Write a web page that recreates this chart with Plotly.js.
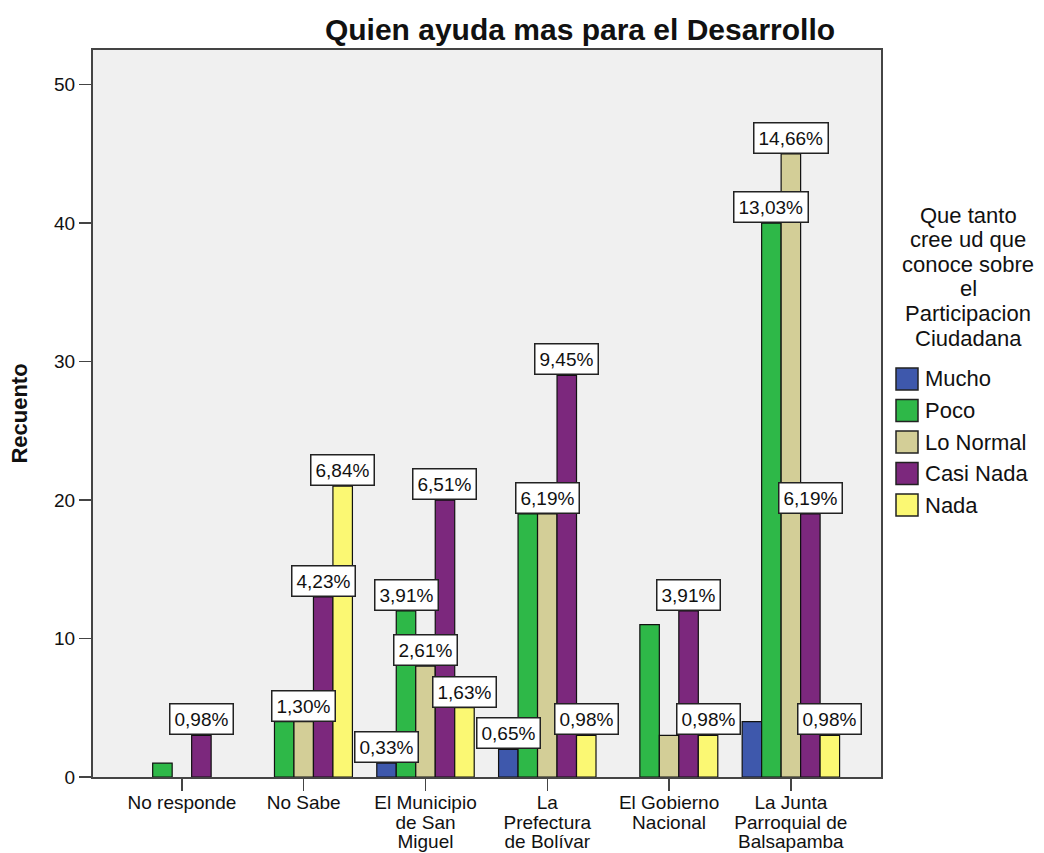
<!DOCTYPE html>
<html>
<head>
<meta charset="utf-8">
<script src="https://cdn.plot.ly/plotly-3.0.1.min.js"></script>
<style>
  html, body { margin: 0; padding: 0; background: #ffffff; }
  #chart { width: 1044px; height: 853px; }
</style>
</head>
<body>
<div id="chart"></div>
<script>
// ---- data ----
const categories = ['No responde', 'No Sabe', 'El Municipio de San Miguel', 'La Prefectura de Bolívar', 'El Gobierno Nacional', 'La Junta Parroquial de Balsapamba'];
const tickLines = [['No responde'], ['No Sabe'], ['El Municipio', 'de San', 'Miguel'], ['La', 'Prefectura', 'de Bolívar'], ['El Gobierno', 'Nacional'], ['La Junta', 'Parroquial de', 'Balsapamba']];

const seriesNames = ['Mucho', 'Poco', 'Lo Normal', 'Casi Nada', 'Nada'];
const mucho    = [null, null, 1, 2, null, 4];
const poco     = [1, 4, 12, 19, 11, 40];
const loNormal = [null, 4, 8, 19, 3, 45];
const casiNada = [3, 13, 20, 29, 12, 19];
const nada     = [null, 21, 5, 3, 3, 3];

// percentage labels shown in the picture (null = label not shown)
const pctMucho    = [null, null, '0,33%', '0,65%', null, null];
const pctPoco     = [null, null, '3,91%', null, null, '13,03%'];
const pctLoNormal = [null, '1,30%', '2,61%', '6,19%', null, '14,66%'];
const pctCasiNada = ['0,98%', '4,23%', '6,51%', '9,45%', '3,91%', '6,19%'];
const pctNada     = [null, '6,84%', '1,63%', '0,98%', '0,98%', '0,98%'];

const legendTitleLines = ['Que tanto', 'cree ud que', 'conoce sobre', 'el', 'Participacion', 'Ciudadana'];
const yTicks = [0, 10, 20, 30, 40, 50];

// ---- styling ----
const colors = ['#3E58AC', '#2EB848', '#D3CE97', '#7C287D', '#FBF873'];
const FONT = 'Liberation Sans, Arial, sans-serif';
const values = [mucho, poco, loNormal, casiNada, nada];
const pcts = [pctMucho, pctPoco, pctLoNormal, pctCasiNada, pctNada];
const BARGAP = 0.2;
const barW = (1 - BARGAP) / seriesNames.length;

// tick labels: 19px glyphs on a tighter (15px-based) line pitch, as in the picture
const tickText = tickLines.map(lines => lines.map(l => '<span style="font-size:19px">' + l + '</span>').join('<br>'));

// plot area in pixels (for paper-coordinate helpers)
const PL = 93, PR = 881, PT = 50, PB = 777;
const px = v => (v - PL) / (PR - PL);
const py = v => (PB - v) / (PB - PT);

const traces = seriesNames.map((name, s) => ({
  type: 'bar',
  name: name,
  x: categories,
  y: values[s],
  marker: { color: colors[s], line: { color: '#111111', width: 1.2 } },
  hoverinfo: 'x+y+name',
  showlegend: false
}));

const annotations = [];
const shapes = [];
pcts.forEach((arr, s) => {
  arr.forEach((txt, c) => {
    if (txt === null || values[s][c] === null) return;
    annotations.push({
      xref: 'x', yref: 'y',
      x: c + (s - (seriesNames.length - 1) / 2) * barW,
      y: values[s][c],
      xanchor: 'center', yanchor: 'bottom',
      text: txt,
      showarrow: false,
      font: { family: FONT, size: 19, color: '#111111' },
      bgcolor: '#ffffff',
      bordercolor: '#222222',
      borderwidth: 1.5,
      borderpad: 4
    });
  });
});

// legend title lines (tight line spacing as in the picture)
legendTitleLines.forEach((line, i) => {
  annotations.push({
    xref: 'paper', yref: 'paper',
    x: px(968), y: py(215 + i * 24.6),
    xanchor: 'center', yanchor: 'middle',
    text: line, showarrow: false,
    font: { family: FONT, size: 22, color: '#111111' }
  });
});

// legend entries: large swatches + labels
seriesNames.forEach((name, s) => {
  const cy = 379 + s * 31.5;
  shapes.push({
    type: 'rect', xref: 'paper', yref: 'paper',
    x0: px(896), x1: px(918), y0: py(cy + 11), y1: py(cy - 11),
    fillcolor: colors[s], line: { color: '#222222', width: 1.5 }, layer: 'above'
  });
  annotations.push({
    xref: 'paper', yref: 'paper',
    x: px(923), y: py(cy),
    xanchor: 'left', yanchor: 'middle',
    text: name, showarrow: false,
    font: { family: FONT, size: 22, color: '#111111' }
  });
});

const layout = {
  width: 1044, height: 853,
  margin: { l: PL, r: 1044 - PR, t: PT, b: 853 - PB, pad: 0 },
  paper_bgcolor: '#ffffff',
  plot_bgcolor: '#f0f0f0',
  barmode: 'group',
  bargap: BARGAP,
  bargroupgap: 0,
  font: { family: FONT, size: 19, color: '#111111' },
  title: {
    text: 'Quien ayuda mas para el Desarrollo',
    font: { family: FONT, size: 30, weight: 'bold', color: '#111111' },
    x: 580 / 1044, xref: 'container', xanchor: 'center',
    y: 1 - 29 / 853, yref: 'container', yanchor: 'middle'
  },
  xaxis: {
    type: 'category',
    range: [-0.73, 5.74],
    tickvals: categories,
    ticktext: tickText,
    ticks: 'outside', ticklen: 12, tickwidth: 1.5, tickcolor: '#444444',
    tickfont: { family: FONT, size: 15, color: '#111111' },
    ticklabelstandoff: 0,
    showgrid: false, zeroline: false,
    showline: true, mirror: true, linecolor: '#444444', linewidth: 2,
    automargin: false, fixedrange: true
  },
  yaxis: {
    range: [0, 52.5],
    tickvals: yTicks,
    ticks: 'outside', ticklen: 12, tickwidth: 1.5, tickcolor: '#444444',
    tickfont: { family: FONT, size: 19, color: '#111111' },
    showgrid: false, zeroline: false,
    showline: true, mirror: true, linecolor: '#444444', linewidth: 2,
    title: { text: 'Recuento', font: { family: FONT, size: 22, weight: 'bold', color: '#111111' }, standoff: 20 },
    automargin: false, fixedrange: true
  },
  showlegend: false,
  shapes: shapes,
  annotations: annotations
};

Plotly.newPlot('chart', traces, layout, { displayModeBar: false, staticPlot: true });
</script>
</body>
</html>
